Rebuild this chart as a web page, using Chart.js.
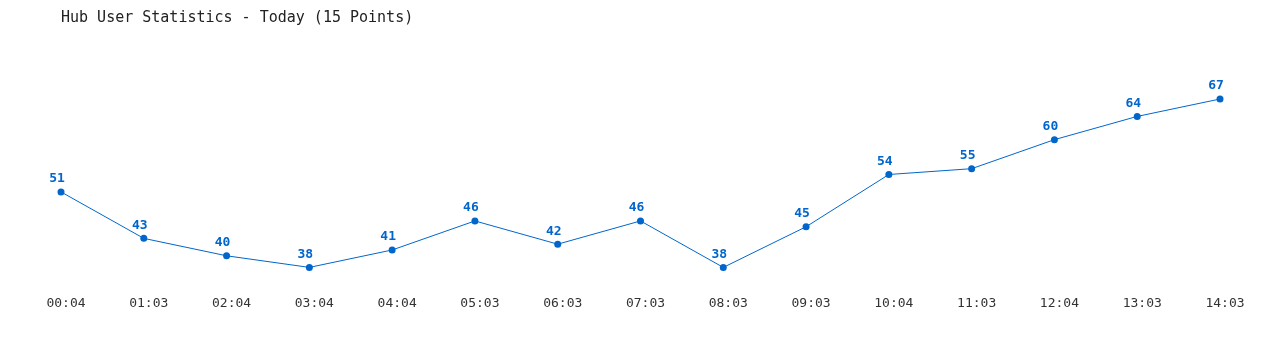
<!DOCTYPE html>
<html>
<head>
<meta charset="utf-8">
<script src="https://cdn.jsdelivr.net/npm/chart.js@4"></script>
<style>
  body { margin: 0; background: #fff; }
  #wrap { width: 1280px; height: 350px; }
</style>
</head>
<body>
<div id="wrap"><canvas id="users"></canvas></div>
<script>
const times = ['00:04', '01:03', '02:04', '03:04', '04:04', '05:03', '06:03', '07:03', '08:03', '09:03', '10:04', '11:03', '12:04', '13:03', '14:03'];
const userCounts = [51, 43, 40, 38, 41, 46, 42, 46, 38, 45, 54, 55, 60, 64, 67];

// draws the number above each point
const pointLabels = {
    id: 'pointLabels',
    afterDatasetsDraw(chart) {
        const ctx = chart.ctx;
        const meta = chart.getDatasetMeta(0);
        ctx.save();
        ctx.font = 'bold 13px "DejaVu Sans Mono", monospace';
        ctx.fillStyle = '#0066cc';
        ctx.textAlign = 'center';
        ctx.textBaseline = 'middle';
        meta.data.forEach((pt, i) => {
            ctx.fillText(String(userCounts[i]), pt.x - 4, pt.y - 13);
        });
        ctx.restore();
    }
};

const ctxUsers = document.getElementById('users').getContext('2d');
const usersChart = new Chart(ctxUsers, {
    type: 'line',
    data: {
        labels: times,
        datasets: [{
            label: 'Users',
            data: userCounts,
            borderColor: '#0066cc',
            backgroundColor: '#0066cc',
            borderWidth: 1,
            pointRadius: 3.5,
            pointBorderWidth: 0,
            tension: 0,
            clip: false
        }]
    },
    options: {
        responsive: true,
        maintainAspectRatio: false,
        animation: false,
        layout: {
            padding: { left: 61, right: 60, top: 0, bottom: 19 }
        },
        plugins: {
            legend: { display: false },
            tooltip: { enabled: false },
            title: {
                display: true,
                text: 'Hub User Statistics - Today (15 Points)',
                align: 'start',
                color: '#222',
                font: { family: '"DejaVu Sans Mono", monospace', size: 15, weight: 'normal' },
                padding: { top: 9, bottom: 72 }
            }
        },
        scales: {
            y: {
                display: false,
                min: 38,
                max: 67
            },
            x: {
                offset: false,
                grid: { display: false },
                border: { display: false },
                ticks: {
                    color: '#333',
                    padding: 20,
                    labelOffset: 5,
                    maxRotation: 0,
                    autoSkip: false,
                    font: { family: '"DejaVu Sans Mono", monospace', size: 13 }
                }
            }
        }
    },
    plugins: [pointLabels]
});
</script>
</body>
</html>
